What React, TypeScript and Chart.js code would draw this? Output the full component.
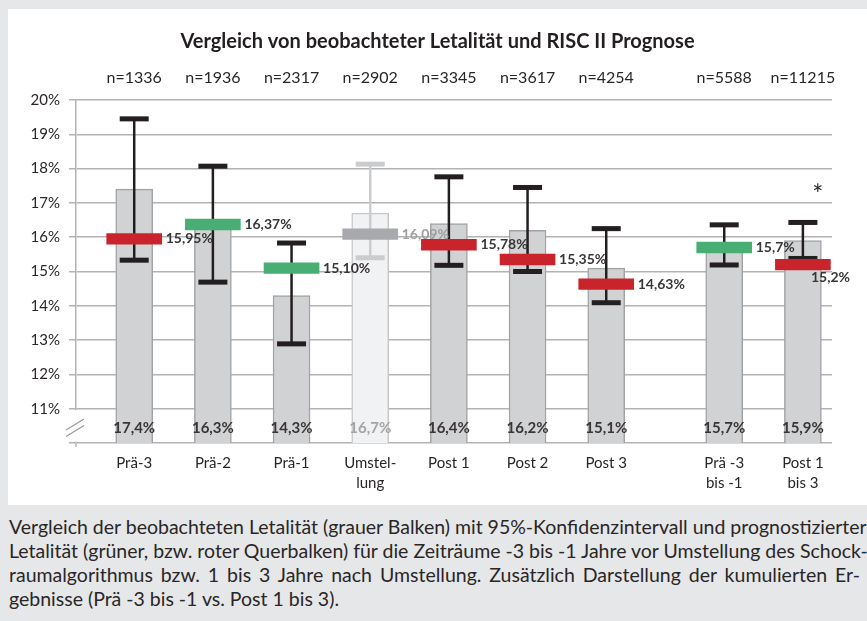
import React, { useEffect, useRef } from 'react';
import { Chart, registerables } from 'chart.js';

Chart.register(...registerables);

const titleText = 'Vergleich von beobachteter Letalität und RISC II Prognose';
const categories: string[][] = [['Prä-3'], ['Prä-2'], ['Prä-1'], ['Umstel-', 'lung'], ['Post 1'], ['Post 2'], ['Post 3'], ['Prä -3', 'bis -1'], ['Post 1', 'bis 3']];
const xPositions = [0, 1, 2, 3, 4, 5, 6, 7.5, 8.5];
const sampleSizes = ['n=1336', 'n=1936', 'n=2317', 'n=2902', 'n=3345', 'n=3617', 'n=4254', 'n=5588', 'n=11215'];
const observed = [17.4, 16.3, 14.3, 16.7, 16.4, 16.2, 15.1, 15.7, 15.9];
const ciLower = [15.33, 14.69, 12.89, 15.4, 15.18, 15.0, 14.09, 15.19, 15.38];
const ciUpper = [19.45, 18.07, 15.83, 18.13, 17.76, 17.45, 16.25, 16.36, 16.43];
const predicted = [15.95, 16.37, 15.1, 16.09, 15.78, 15.35, 14.63, 15.7, 15.2];
const predictedDecimals = [2, 2, 2, 2, 2, 2, 2, 1, 1];
const status = ['worse', 'better', 'better', 'transition', 'worse', 'worse', 'worse', 'better', 'worse'];
const significance = ['', '', '', '', '', '', '', '', '*'];
const yMin = 10;
const yMax = 20;
const captionLines = [
  'Vergleich der beobachteten Letalität (grauer Balken) mit 95%-Konfidenzintervall und prognostizierter',
  'Letalität (grüner, bzw. roter Querbalken) für die Zeiträume -3 bis -1 Jahre vor Umstellung des Schock-',
  'raumalgorithmus bzw. 1 bis 3 Jahre nach Umstellung. Zusätzlich Darstellung der kumulierten Er-',
  'gebnisse (Prä -3 bis -1 vs. Post 1 bis 3).',
];

const FONT = 'Lato';
const TEXT = '#2a2627';
const GRID = '#b3b3b3';
const markerColor: Record<string, string> = { worse: '#c9232c', better: '#48ae74', transition: '#a8a9ac' };
const fmt = (v: number, d: number) => v.toFixed(d).replace('.', ',') + '%';

const overlayPlugin = {
  id: 'overlay',
  afterDatasetDraw(chart: any, args: any) {
    const ctx = chart.ctx;
    const xs = chart.scales.x;
    const ys = chart.scales.y;
    if (args.index === 0) {
      ctx.save();
      xPositions.forEach((xp, i) => {
        const cx = xs.getPixelForValue(xp);
        const yl = ys.getPixelForValue(ciLower[i]);
        const yh = ys.getPixelForValue(ciUpper[i]);
        const faded = status[i] === 'transition';
        const col = faded ? '#cbccce' : '#231f20';
        ctx.strokeStyle = col;
        ctx.fillStyle = col;
        ctx.lineWidth = 2.5;
        ctx.beginPath();
        ctx.moveTo(cx, yh);
        ctx.lineTo(cx, yl);
        ctx.stroke();
        ctx.fillRect(cx - 14.5, yh - 2.5, 29, 5);
        ctx.fillRect(cx - 14.5, yl - 2.5, 29, 5);
        ctx.font = `bold 15px ${FONT}`;
        ctx.fillStyle = faded ? '#a3a4a6' : '#3a3637';
        ctx.textAlign = 'center';
        ctx.textBaseline = 'middle';
        ctx.fillText(fmt(observed[i], 1), cx, ys.getPixelForValue(yMin + 0.44));
      });
      ctx.restore();
    }
    if (args.index === 1) {
      ctx.save();
      xPositions.forEach((xp, i) => {
        const cx = xs.getPixelForValue(xp);
        const py = ys.getPixelForValue(predicted[i]);
        const faded = status[i] === 'transition';
        ctx.font = `bold 14px ${FONT}`;
        ctx.fillStyle = faded ? '#9d9ea0' : '#3a3637';
        ctx.textBaseline = 'middle';
        ctx.textAlign = 'left';
        if (i === xPositions.length - 1) {
          ctx.fillText(fmt(predicted[i], predictedDecimals[i]), cx + 8, py + 13);
        } else {
          ctx.fillText(fmt(predicted[i], predictedDecimals[i]), cx + 31.5, py);
        }
        if (significance[i]) {
          ctx.font = `26px ${FONT}`;
          ctx.fillStyle = TEXT;
          ctx.textAlign = 'center';
          ctx.fillText(significance[i], cx + 15, ys.getPixelForValue(ciUpper[i]) - 27);
        }
      });
      ctx.restore();
    }
  },
  afterDraw(chart: any) {
    const ctx = chart.ctx;
    const ys = chart.scales.y;
    const left = chart.chartArea.left;
    const p10 = ys.getPixelForValue(yMin);
    const p11 = ys.getPixelForValue(yMin + 1);
    ctx.save();
    ctx.fillStyle = '#ffffff';
    ctx.fillRect(left - 2, p11 + 1.5, 4, p10 - p11 - 3);
    ctx.strokeStyle = '#9a9a9a';
    ctx.lineWidth = 1.2;
    ctx.beginPath();
    ctx.moveTo(left - 10, p10 - 13);
    ctx.lineTo(left + 8, p10 - 24);
    ctx.moveTo(left - 10, p10 - 6.5);
    ctx.lineTo(left + 8, p10 - 17.5);
    ctx.stroke();
    ctx.strokeStyle = GRID;
    ctx.lineWidth = 1.5;
    ctx.beginPath();
    ctx.moveTo(left, p10);
    ctx.lineTo(left, p10 + 4);
    ctx.stroke();
    ctx.restore();
  },
};

function ChartBox() {
  const ref = useRef<HTMLCanvasElement>(null);
  useEffect(() => {
    const setTicks = (scale: any) => {
      scale.ticks = xPositions.map((v) => ({ value: v }));
    };
    const chart = new Chart(ref.current as HTMLCanvasElement, {
      type: 'bar',
      data: {
        datasets: [
          {
            label: 'Beobachtet',
            data: xPositions.map((x, i) => ({ x, y: observed[i] })),
            backgroundColor: status.map((s) => (s === 'transition' ? '#f1f2f3' : '#d1d2d4')),
            borderColor: status.map((s) => (s === 'transition' ? '#c6c7c9' : '#a2a3a5')),
            borderWidth: 1.5,
            barThickness: 37,
            grouped: false,
            order: 2,
          } as any,
          {
            label: 'Prognose',
            data: xPositions.map((x, i) => ({ x, y: [predicted[i] - 0.155, predicted[i] + 0.155] })),
            backgroundColor: status.map((s) => markerColor[s]),
            borderWidth: 0,
            barThickness: 55,
            grouped: false,
            order: 1,
          } as any,
        ],
      },
      options: {
        animation: false,
        responsive: true,
        maintainAspectRatio: false,
        layout: { padding: 0 },
        plugins: {
          legend: { display: false },
          tooltip: { enabled: false },
          title: {
            display: true,
            text: titleText,
            color: '#231f20',
            font: { family: FONT, size: 20, weight: 'bold', lineHeight: 1.2 },
            padding: { top: 21, bottom: 0 },
          },
        },
        scales: {
          x: {
            type: 'linear',
            position: 'bottom',
            offset: false,
            min: -0.74,
            max: 8.87,
            afterBuildTicks: setTicks,
            afterFit: (s: any) => { s.height = 62; },
            grid: { display: false, drawTicks: false, offset: false },
            border: { display: false },
            ticks: {
              autoSkip: false,
              maxRotation: 0,
              padding: 10,
              color: TEXT,
              font: { family: FONT, size: 15, lineHeight: 1.333 },
              callback: (_v: any, i: number) => categories[i],
            },
          },
          xTop: {
            type: 'linear',
            position: 'top',
            offset: false,
            min: -0.74,
            max: 8.87,
            afterBuildTicks: setTicks,
            afterFit: (s: any) => { s.height = 46; },
            grid: { display: false, drawTicks: false, offset: false },
            border: { display: false },
            ticks: {
              autoSkip: false,
              maxRotation: 0,
              padding: 13,
              color: TEXT,
              font: { family: FONT, size: 16, lineHeight: 1.2 },
              callback: (_v: any, i: number) => sampleSizes[i],
            },
          },
          y: {
            type: 'linear',
            min: yMin,
            max: yMax,
            afterFit: (s: any) => { s.width = 68; },
            grid: { color: GRID, lineWidth: 1.5, tickLength: 7 },
            border: { color: GRID, width: 1.5 },
            ticks: {
              stepSize: 1,
              padding: 9,
              color: TEXT,
              font: { family: FONT, size: 15 },
              callback: (v: any) => (v === yMin ? '' : v + '%'),
            },
          },
          yRight: {
            type: 'linear',
            position: 'right',
            min: yMin,
            max: yMax,
            afterFit: (s: any) => { s.width = 35; },
            grid: { display: false, drawTicks: false },
            border: { display: false },
            ticks: { display: false },
          },
        } as any,
      },
      plugins: [overlayPlugin],
    });
    return () => chart.destroy();
  }, []);
  return <canvas ref={ref} />;
}

export default function App() {
  useEffect(() => {
    document.body.style.margin = '0';
  }, []);
  return (
    <div style={{ position: 'relative', width: 867, height: 621, background: '#e6e7e8', overflow: 'hidden' }}>
      <div style={{ position: 'absolute', left: 8, top: 9, width: 859, height: 496, background: '#ffffff' }}>
        <ChartBox />
      </div>
      <div
        style={{
          position: 'absolute',
          left: 9,
          top: 515,
          width: 851,
          fontFamily: FONT,
          fontSize: 19.5,
          lineHeight: '24px',
          color: '#2a2627',
        }}
      >
        {captionLines.map((l, i) => (
          <div
            key={i}
            style={{
              whiteSpace: 'nowrap',
              textAlign: 'justify',
              textAlignLast: i < captionLines.length - 1 ? 'justify' : 'left',
            }}
          >
            {l}
          </div>
        ))}
      </div>
    </div>
  );
}
